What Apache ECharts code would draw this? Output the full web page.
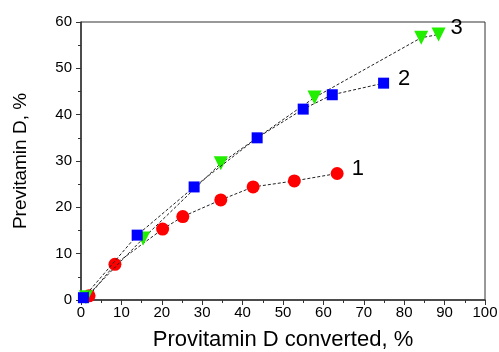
<!DOCTYPE html>
<html>
<head>
<meta charset="utf-8">
<script src="https://cdn.jsdelivr.net/npm/echarts@6/dist/echarts.min.js"></script>
<style>
html,body{margin:0;padding:0;background:#fff;}
#c{width:499px;height:352px;}
</style>
</head>
<body>
<div id="c"></div>
<script>
// Series 1: red circles
const s1x = [2.0, 8.4, 20.2, 25.2, 34.6, 42.6, 52.8, 63.4];
const s1y = [0.9, 7.7, 15.3, 18.0, 21.6, 24.4, 25.7, 27.3];
// Series 2: blue squares
const s2x = [0.6, 13.9, 28.0, 43.6, 55.0, 62.2, 74.9];
const s2y = [0.5, 14.0, 24.4, 35.0, 41.2, 44.3, 46.8];
// Series 3: green down-triangles
const s3x = [1.2, 15.4, 34.6, 57.8, 84.2, 88.5];
const s3y = [0.6, 13.3, 29.5, 43.7, 56.6, 57.3];
const seriesNames = ['1', '2', '3'];
const xTitle = 'Provitamin D converted, %';
const yTitle = 'Previtamin D, %';

function pairs(xs, ys) { return xs.map((x, i) => [x, ys[i]]); }

const chart = echarts.init(document.getElementById('c'), null, {renderer: 'canvas'});
const font = 'Liberation Sans, Arial, sans-serif';
const lineStyle = {color: '#222', width: 1, type: [3, 2]};

function mkSeries(name, data, symbol, size, color, labelOffset, z, rot) {
  return {
    name: name,
    type: 'line',
    data: data,
    symbol: symbol,
    symbolSize: size,
    symbolRotate: rot || 0,
    z: z,
    itemStyle: {color: color, borderWidth: 0},
    lineStyle: lineStyle,
    animation: false,
    label: {
      show: true,
      formatter: function (p) { return p.dataIndex === data.length - 1 ? name : ''; },
      position: 'right',
      offset: labelOffset,
      fontFamily: font,
      fontSize: 22,
      color: '#000'
    }
  };
}

chart.setOption({
  animation: false,
  backgroundColor: '#fff',
  grid: {left: 81, top: 22, right: 14, bottom: 52, containLabel: false, outerBoundsMode: 'none',
         show: true, borderColor: '#333', borderWidth: 1},
  xAxis: {
    type: 'value', min: 0, max: 100, interval: 10,
    name: xTitle, nameLocation: 'middle', nameGap: 29,
    nameTextStyle: {fontFamily: font, fontSize: 22, color: '#000'},
    axisLine: {show: true, onZero: false, lineStyle: {color: '#333', width: 1.5}},
    axisTick: {show: true, inside: false, length: 5, lineStyle: {color: '#333'}},
    minorTick: {show: true, splitNumber: 2, length: 3, lineStyle: {color: '#333'}},
    axisLabel: {fontFamily: font, fontSize: 15, color: '#000', margin: 5},
    splitLine: {show: false}
  },
  yAxis: {
    type: 'value', min: 0, max: 60, interval: 10,
    name: yTitle, nameLocation: 'middle', nameGap: 51,
    nameTextStyle: {fontFamily: font, fontSize: 19, color: '#000'},
    axisLine: {show: true, onZero: false, lineStyle: {color: '#333', width: 1.5}},
    axisTick: {show: true, inside: false, length: 5, lineStyle: {color: '#333'}},
    minorTick: {show: true, splitNumber: 2, length: 3, lineStyle: {color: '#333'}},
    axisLabel: {fontFamily: font, fontSize: 15, color: '#000', margin: 9},
    splitLine: {show: false}
  },
  series: [
    mkSeries(seriesNames[0], pairs(s1x, s1y), 'circle', 13, '#ff0000', [3, -5], 2),
    mkSeries(seriesNames[1], pairs(s2x, s2y), 'rect', 11, '#0000ff', [4, -4], 4),
    mkSeries(seriesNames[2], pairs(s3x, s3y), 'triangle', 14, '#22ee00', [0, -7], 3, 180)
  ]
});
</script>
</body>
</html>
